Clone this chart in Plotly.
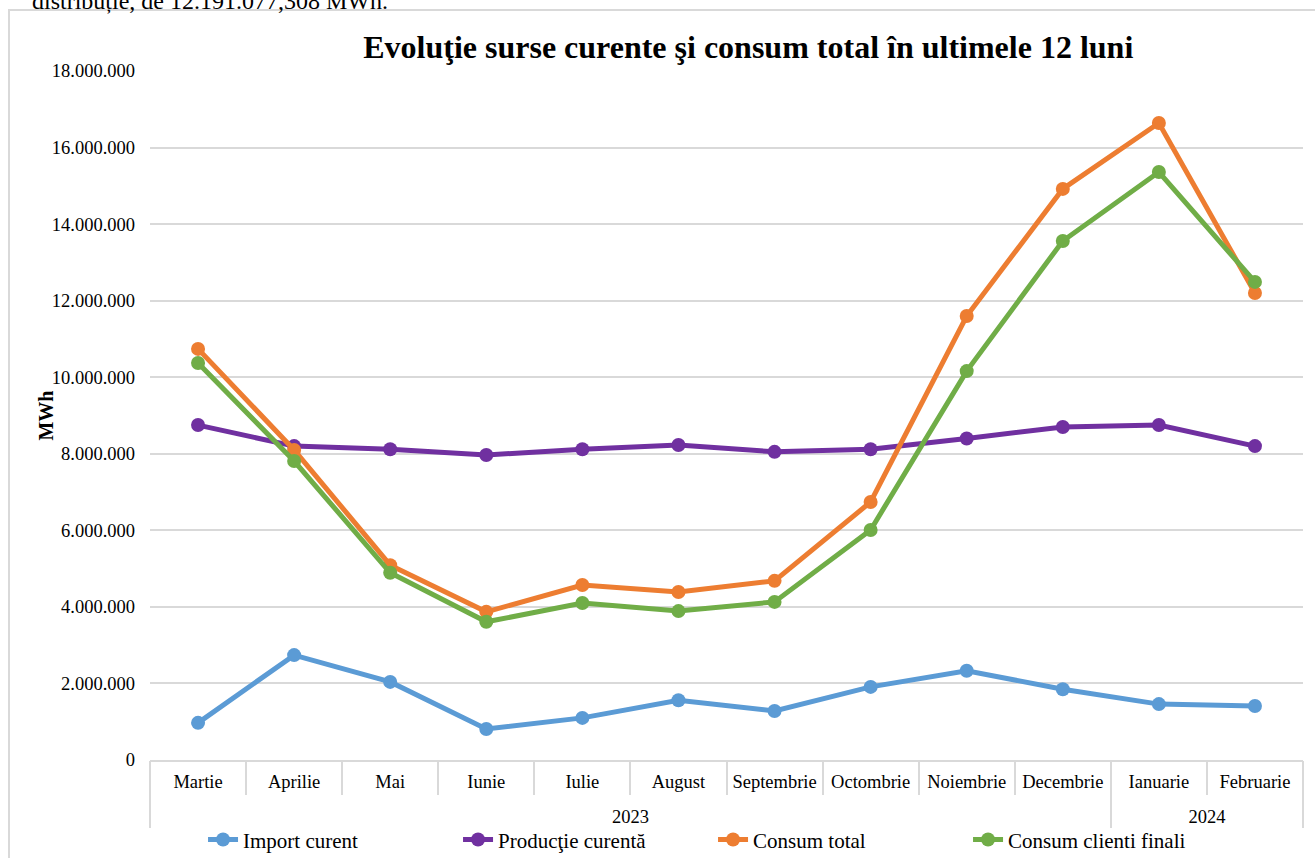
import plotly.graph_objects as go

months = ["Martie", "Aprilie", "Mai", "Iunie", "Iulie", "August", "Septembrie",
          "Octombrie", "Noiembrie", "Decembrie", "Ianuarie", "Februarie"]
years = ["2023"] * 10 + ["2024"] * 2

import_curent = [970000, 2740000, 2040000, 810000, 1100000, 1560000, 1280000,
                 1910000, 2330000, 1850000, 1460000, 1410000]
productie_curenta = [8750000, 8200000, 8120000, 7970000, 8120000, 8230000, 8050000,
                     8120000, 8400000, 8700000, 8750000, 8200000]
consum_total = [10740000, 8100000, 5090000, 3870000, 4570000, 4390000, 4680000,
                6740000, 11600000, 14920000, 16640000, 12200000]
consum_clienti = [10370000, 7810000, 4890000, 3610000, 4100000, 3890000, 4130000,
                  6010000, 10160000, 13560000, 15360000, 12490000]

series = [
    ("Import curent", import_curent, "#5B9BD5"),
    ("Producţie curentă", productie_curenta, "#7030A0"),
    ("Consum total", consum_total, "#ED7D31"),
    ("Consum clienti finali", consum_clienti, "#70AD47"),
]

FONT = "Liberation Serif, Times New Roman, serif"
GRID = "#d9d9d9"

# year groups derived from the data: boundaries (in category index units) and centres
n = len(months)
group_bounds = [-0.5] + [i - 0.5 for i in range(1, n) if years[i] != years[i - 1]] + [n - 0.5]
group_names = [years[0]] + [years[i] for i in range(1, n) if years[i] != years[i - 1]]
group_centres = [(a + b) / 2 for a, b in zip(group_bounds[:-1], group_bounds[1:])]
x_range = [-0.5, n - 0.5]

fig = go.Figure()
for name, vals, color in series:
    fig.add_trace(go.Scatter(
        x=months, y=vals, name=name, mode="lines+markers",
        line=dict(color=color, width=5),
        marker=dict(color=color, size=14),
    ))
# empty helper traces so the overlaid year axes are drawn
for ax in ("x2", "x3"):
    fig.add_trace(go.Scatter(x=[], y=[], xaxis=ax, showlegend=False, hoverinfo="skip"))

fig.update_layout(
    width=1315, height=858,
    paper_bgcolor="white", plot_bgcolor="white",
    separators=",.",
    font=dict(family=FONT, size=18.5, color="#000000"),
    margin=dict(l=150, r=12, t=71, b=98, autoexpand=False),
    title=dict(text="<b>Evoluţie surse curente şi consum total în ultimele 12 luni</b>",
               x=0.569, xanchor="center", y=0.945, yanchor="middle",
               font=dict(family=FONT, size=32, color="#000000")),
    showlegend=True,
    legend=dict(orientation="h", x=0.046, xanchor="left", y=-0.116, yanchor="middle",
                font=dict(family=FONT, size=21, color="#000000"),
                entrywidth=210, entrywidthmode="pixels",
                tracegroupgap=0, bgcolor="rgba(0,0,0,0)"),
    xaxis=dict(
        type="category", categoryarray=months, categoryorder="array",
        automargin=False, range=x_range, autorange=False,
        showline=True, linecolor=GRID, linewidth=1.5,
        tickson="boundaries", ticks="outside", ticklen=33, tickcolor=GRID, tickwidth=1.5,
        showgrid=False, ticklabelstandoff=4,
        tickfont=dict(family=FONT, size=18.5, color="#000000"),
    ),
    xaxis2=dict(
        type="linear", overlaying="x", anchor="y", side="bottom",
        automargin=False, range=x_range, autorange=False,
        tickmode="array", tickvals=group_bounds, ticktext=[""] * len(group_bounds),
        ticks="outside", ticklen=67, tickcolor=GRID, tickwidth=1.5,
        showgrid=False, zeroline=False, showline=False,
    ),
    xaxis3=dict(
        type="linear", overlaying="x", anchor="y", side="bottom",
        automargin=False, range=x_range, autorange=False,
        tickmode="array", tickvals=group_centres, ticktext=group_names,
        ticks="", ticklabelstandoff=43,
        showgrid=False, zeroline=False, showline=False,
        tickfont=dict(family=FONT, size=18.5, color="#000000"),
    ),
    yaxis=dict(
        automargin=False,
        range=[0, 18000000], dtick=2000000, tick0=0,
        tickformat=",d",
        showgrid=True, gridcolor=GRID, gridwidth=1.5,
        zeroline=False, showline=False,
        ticks="", ticklabelstandoff=14,
        tickfont=dict(family=FONT, size=18.5, color="#000000"),
    ),
    shapes=[dict(type="rect", xref="paper", yref="paper",
                 x0=-0.1223, x1=1.05, y0=-0.2, y1=1.0885,
                 line=dict(color=GRID, width=2), fillcolor="rgba(0,0,0,0)",
                 layer="below")],
    annotations=[
        dict(text="distribuție, de 12.191.077,308 MWh.", xref="paper", yref="paper",
             x=-0.104, xanchor="left", y=1.0798, yanchor="bottom", showarrow=False,
             font=dict(family=FONT, size=24, color="#000000")),
        dict(text="<b>MWh</b>", xref="paper", yref="paper", textangle=-90,
             x=-0.091, xanchor="center", y=0.5, yanchor="middle", showarrow=False,
             font=dict(family=FONT, size=20, color="#000000")),
    ],
)

fig.write_html("out.html", config={"displayModeBar": False},
               post_script="document.body.style.margin='0';document.body.style.overflow='hidden';")
